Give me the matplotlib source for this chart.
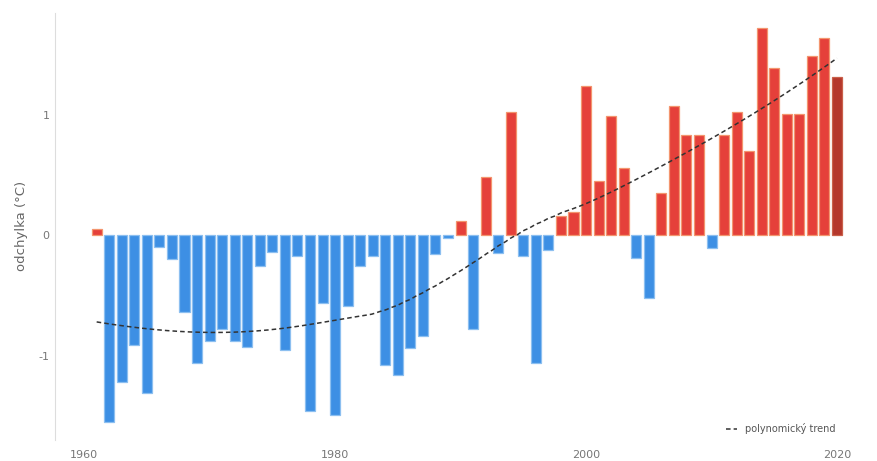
import numpy as np
import matplotlib
matplotlib.use("Agg")
import matplotlib.pyplot as plt

# roční odchylky teploty od normálu
roky = list(range(1961, 2021))
odchylky = [
    0.05, -1.55, -1.22, -0.91, -1.31, -0.10, -0.20, -0.64, -1.06, -0.88,
    -0.78, -0.88, -0.93, -0.26, -0.14, -0.95, -0.17, -1.46, -0.56, -1.49,
    -0.59, -0.26, -0.17, -1.08, -1.16, -0.94, -0.84, -0.16, -0.02, 0.12,
    -0.78, 0.48, -0.15, 1.02, -0.17, -1.06, -0.12, 0.16, 0.19, 1.24,
    0.45, 0.99, 0.56, -0.19, -0.52, 0.35, 1.07, 0.83, 0.83, -0.11,
    0.83, 1.02, 0.70, 1.72, 1.39, 1.01, 1.01, 1.49, 1.64, 1.31,
]
x_popisky = [1960, 1980, 2000, 2020]
y_popisky = [-1, 0, 1]
popis_trendu = "polynomický trend"

roky = np.array(roky)
odchylky = np.array(odchylky)


def loess(x, y, xs, span=0.75):
    # lokální kvadratická regrese s trikubickými vahami
    q = int(np.floor(len(x) * span))
    out = []
    for x0 in xs:
        d = np.abs(x - x0)
        h = np.sort(d)[q - 1]
        w = np.clip(1 - (d / h) ** 3, 0, None) ** 3
        c = np.polyfit(x - x0, y, 2, w=np.sqrt(w))
        out.append(c[-1])
    return np.array(out)


# barvy sloupců podle znaménka, poslední rok tmavší
barvy = np.where(odchylky >= 0, "#e5403a", "#3d8fe4")
okraje = np.where(odchylky >= 0, "#f3956e", "#8cbff0")
barvy[-1] = "#b5372c"
okraje[-1] = "#c9604a"

fig = plt.figure(figsize=(8.77, 4.61), dpi=100)
ax = fig.add_axes([0.063, 0.046, 0.91, 0.926])

ax.bar(roky, odchylky, width=0.8, color=barvy, edgecolor=okraje, linewidth=0.9, zorder=2)

xs = np.linspace(roky[0], roky[-1], 200)
ax.plot(xs, loess(roky.astype(float), odchylky, xs), color="#333333", lw=1.1,
        dashes=(3, 2), zorder=3, label=popis_trendu)

ax.set_xlim(1957.7, 2021.3)
ax.set_ylim(-1.70, 1.846)
ax.set_xticks(x_popisky)
ax.set_xticklabels([str(r) for r in x_popisky])
ax.set_yticks(y_popisky)
ax.set_yticklabels([str(v) for v in y_popisky])
ax.tick_params(colors="#777777", labelsize=8, length=0, pad=4)
ax.tick_params(axis="x", pad=7)
ax.set_ylabel("odchylka (°C)", color="#666666", fontsize=9.5, labelpad=8)

for s in ["top", "right", "bottom"]:
    ax.spines[s].set_visible(False)
ax.spines["left"].set_color("#dddddd")
ax.spines["left"].set_linewidth(0.8)

leg = ax.legend(loc="lower right", frameon=False, fontsize=7, handlelength=1.2,
                borderaxespad=0.2, bbox_to_anchor=(0.985, 0.0))
for t in leg.get_texts():
    t.set_color("#555555")

fig.savefig("out.png", dpi=100)
